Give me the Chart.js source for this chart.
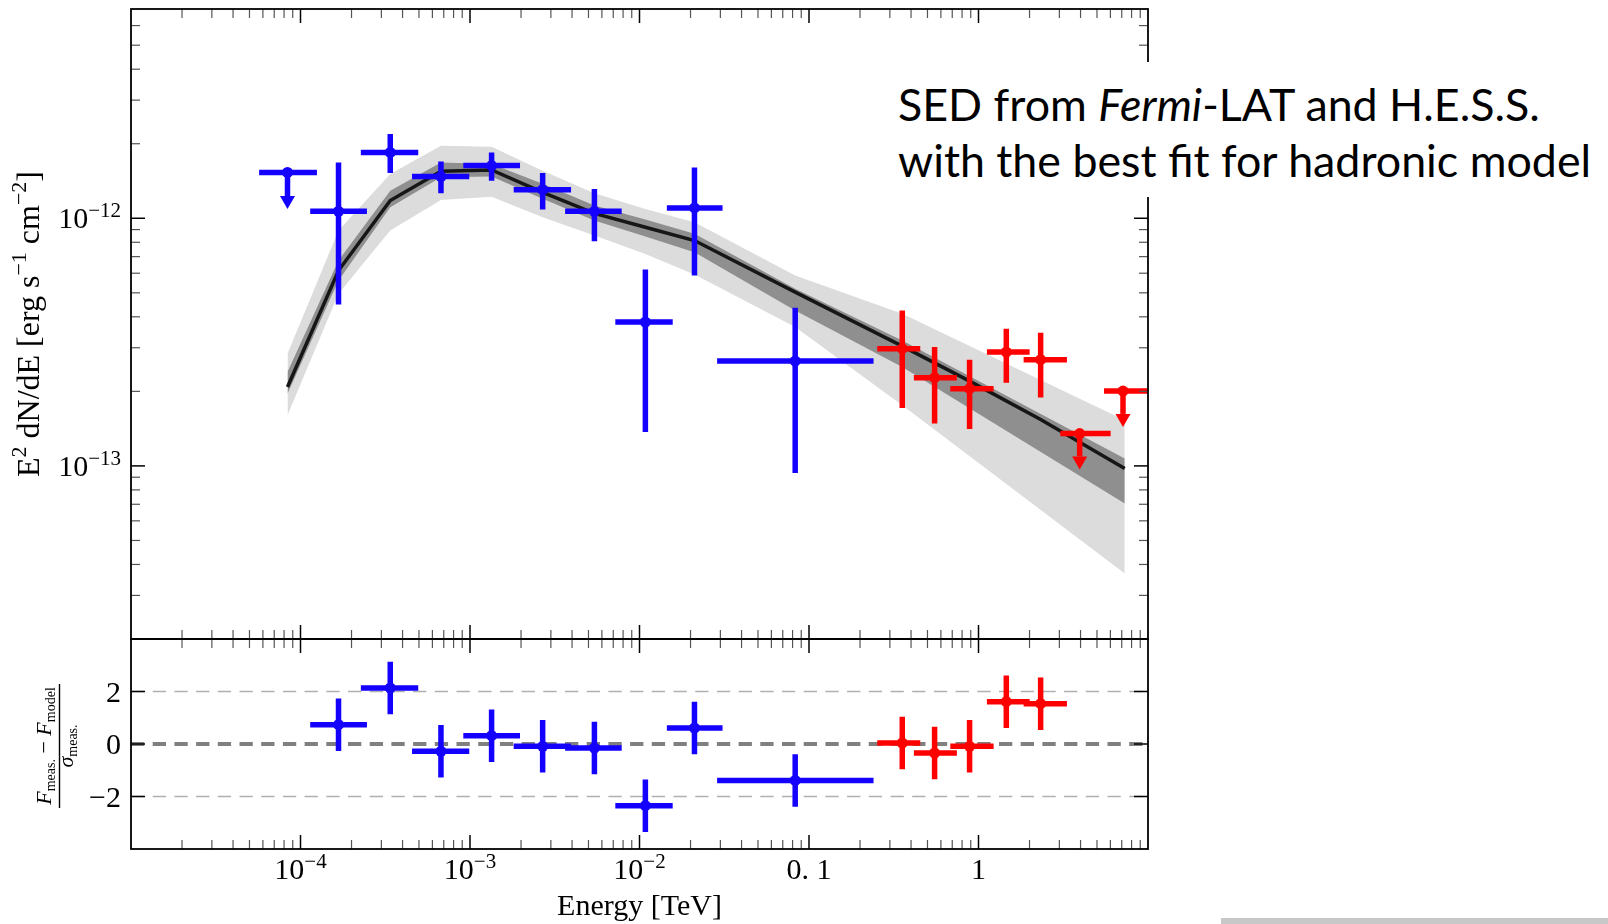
<!DOCTYPE html>
<html lang="en">
<head>
<meta charset="UTF-8">
<title>SED from Fermi-LAT and H.E.S.S. with hadronic model</title>
<script src="https://cdn.jsdelivr.net/npm/chart.js"></script>
<style>
  html, body { margin: 0; padding: 0; background: #fff; }
  body { position: relative; width: 1608px; height: 924px; overflow: hidden; }
  canvas { position: absolute; left: 0; top: 0; }
  #note { position: absolute; left: 872px; top: 62px; width: 736px; height: 135px; background: #fff; }
  #note p { position: absolute; left: 26px; margin: 0; white-space: nowrap; font-family: Lato, "Open Sans", sans-serif; font-size: 45px; color: #000; transform-origin: 0 0; }
  #footerRule { position: absolute; left: 1221px; top: 918px; width: 387px; height: 6px; background: #c8c8c8; }
</style>
</head>
<body>
<canvas id="sedChart" width="1608" height="924"></canvas>
<canvas id="residChart" width="1608" height="924"></canvas>
<div id="note">
  <p id="noteLine1">SED from <i>Fermi</i>-LAT and H.E.S.S.</p>
  <p id="noteLine2">with the best fit for hadronic model</p>
</div>
<div id="footerRule"></div>

<script>
// axis ranges
const xRange = [1e-5, 10];          // Energy [TeV]
const fluxRange = [2e-14, 7e-12];   // E^2 dN/dE [erg s^-1 cm^-2]
const residRange = [-4, 4];

// tick labels
const xTickVals = [1e-4, 1e-3, 1e-2, 0.1, 1];
const xTickLabels = ['10^−4', '10^−3', '10^−2', '0. 1', '1'];
const fluxTickVals = [1e-13, 1e-12];
const fluxTickLabels = ['10^−13', '10^−12'];
const residTickVals = [-2, 0, 2];
const residTickLabels = ['−2', '0', '2'];

// Fermi-LAT flux points
const fermiE   = [1.676e-4, 3.385e-4, 6.74e-4, 1.341e-3, 2.683e-3, 5.42e-3, 1.083e-2, 2.11e-2, 8.29e-2];
const fermiElo = [1.141e-4, 2.27e-4, 4.55e-4, 9.13e-4, 1.81e-3, 3.64e-3, 7.2e-3, 1.45e-2, 2.87e-2];
const fermiEhi = [2.466e-4, 4.95e-4, 9.9e-4, 1.973e-3, 3.946e-3, 7.85e-3, 1.57e-2, 3.09e-2, 0.2403];
const fermiF   = [1.067e-12, 1.845e-12, 1.473e-12, 1.632e-12, 1.305e-12, 1.067e-12, 3.81e-13, 1.101e-12, 2.651e-13];
const fermiFlo = [4.49e-13, 1.524e-12, 1.261e-12, 1.419e-12, 1.084e-12, 8.08e-13, 1.371e-13, 5.88e-13, 9.37e-14];
const fermiFhi = [1.681e-12, 2.188e-12, 1.697e-12, 1.845e-12, 1.524e-12, 1.314e-12, 6.21e-13, 1.605e-12, 4.352e-13];

// Fermi-LAT upper limit
const fermiUlE   = [8.38e-5];
const fermiUlElo = [5.7e-5];
const fermiUlEhi = [1.25e-4];
const fermiUlF   = [1.532e-12];
const fermiUlTip = [1.09e-12];

// H.E.S.S. flux points
const hessE   = [0.355, 0.5508, 0.886, 1.459, 2.326];
const hessElo = [0.2527, 0.4157, 0.6817, 1.121, 1.846];
const hessEhi = [0.4533, 0.7456, 1.228, 2.003, 3.325];
const hessF   = [2.974e-13, 2.272e-13, 2.051e-13, 2.882e-13, 2.686e-13];
const hessFlo = [1.713e-13, 1.483e-13, 1.41e-13, 2.169e-13, 1.887e-13];
const hessFhi = [4.243e-13, 3.018e-13, 2.685e-13, 3.581e-13, 3.45e-13];

// H.E.S.S. upper limits
const hessUlE   = [3.953, 7.12];
const hessUlElo = [3.04, 5.5];
const hessUlEhi = [6.02, 10.9];
const hessUlF   = [1.351e-13, 2.006e-13];
const hessUlTip = [9.67e-14, 1.437e-13];

// hadronic model, best fit
const modelE = [8.38e-5, 1.676e-4, 3.385e-4, 6.74e-4, 1.341e-3, 2.683e-3, 5.42e-3, 1.083e-2, 2.11e-2, 8.29e-2, 0.355, 0.886, 2.326, 7.29];
const modelF = [2.082e-13, 6.15e-13, 1.179e-12, 1.547e-12, 1.567e-12, 1.273e-12, 1.047e-12, 9.2e-13, 8.13e-13, 5.03e-13, 3.047e-13, 2.2e-13, 1.539e-13, 9.76e-14];

// model uncertainty bands
const bandE   = [8.38e-5, 1.676e-4, 3.385e-4, 6.74e-4, 1.341e-3, 2.683e-3, 5.42e-3, 1.083e-2, 2.11e-2, 8.29e-2, 0.355, 7.29];
const outerHi = [2.838e-13, 8.92e-13, 1.51e-12, 1.963e-12, 1.945e-12, 1.557e-12, 1.261e-12, 1.091e-12, 9.64e-13, 5.88e-13, 4.115e-13, 1.529e-13];
const outerLo = [1.601e-13, 4.96e-13, 8.92e-13, 1.186e-12, 1.223e-12, 1.009e-12, 8.52e-13, 7.18e-13, 5.93e-13, 3.635e-13, 1.757e-13, 3.68e-14];
const innerHi = [2.393e-13, 6.75e-13, 1.293e-12, 1.681e-12, 1.656e-12, 1.38e-12, 1.125e-12, 9.88e-13, 8.65e-13, 5.19e-13, 3.213e-13, 1.071e-13];
const innerLo = [1.958e-13, 5.61e-13, 1.107e-12, 1.463e-12, 1.473e-12, 1.2e-12, 9.79e-13, 8.44e-13, 7.29e-13, 4.24e-13, 2.507e-13, 7.05e-14];

// residuals (F_meas - F_model) / sigma
const fermiResid    = [0.735, 2.133, -0.28, 0.316, -0.09, -0.152, -2.35, 0.61, -1.387];
const fermiResidErr = [1, 1, 1, 1, 1, 1, 1, 1, 1];
const hessResid     = [0.038, -0.343, -0.09, 1.611, 1.535];
const hessResidErr  = [1, 1, 1, 1, 1];
const residGuides = [-2, 2];

const SERIF = '"Liberation Serif", "DejaVu Serif", serif';
const BLUE = '#1400ff';
const RED = '#ff0000';
const TICK_FONT = 30;

const pts = (xs, ys) => xs.map((x, i) => ({ x, y: ys[i] }));

function logMinorTicks(min, max) {
  const out = [];
  for (let p = Math.floor(Math.log10(min)); p <= Math.ceil(Math.log10(max)); p++) {
    for (let k = 2; k <= 9; k++) {
      const v = k * Math.pow(10, p);
      if (v > min * 1.001 && v < max * 0.999) out.push(v);
    }
  }
  return out;
}

function fontFor(p) {
  return (p.italic ? 'italic ' : '') + p.size + 'px ' + SERIF;
}

// draws a run of text pieces (with optional super/subscript rise) on one baseline
function drawRich(ctx, parts, x, y, align) {
  let width = 0;
  for (const p of parts) { ctx.font = fontFor(p); width += ctx.measureText(p.t).width; }
  let cx = align === 'center' ? x - width / 2 : align === 'right' ? x - width : x;
  ctx.textAlign = 'left';
  ctx.textBaseline = 'alphabetic';
  for (const p of parts) {
    ctx.font = fontFor(p);
    ctx.fillText(p.t, cx, y - (p.rise || 0));
    cx += ctx.measureText(p.t).width;
  }
}

function tickParts(label, size) {
  const [base, exp] = label.split('^');
  const parts = [{ t: base, size }];
  if (exp) parts.push({ t: exp, size: Math.round(size * 0.7), rise: Math.round(size * 0.37) });
  return parts;
}

// frame, inward ticks on all four sides, tick labels
function framePlugin(cfg) {
  return {
    id: 'frame',
    afterDraw(chart) {
      const { ctx, chartArea: a, scales: { x, y } } = chart;
      ctx.save();
      ctx.lineCap = 'butt';
      const line = (x0, y0, x1, y1, major) => {
        ctx.strokeStyle = major ? '#000' : '#555';
        ctx.lineWidth = major ? 1.5 : 1.2;
        ctx.beginPath(); ctx.moveTo(x0, y0); ctx.lineTo(x1, y1); ctx.stroke();
      };
      const xTicks = xTickVals.map(v => [v, true]).concat(logMinorTicks(xRange[0], xRange[1]).map(v => [v, false]));
      for (const [v, major] of xTicks) {
        const px = x.getPixelForValue(v);
        const len = major ? 14 : 9;
        line(px, a.top, px, a.top + len, major);
        line(px, a.bottom, px, a.bottom - len, major);
      }
      const yTicks = cfg.yMajor.map(v => [v, true]).concat(cfg.yMinor.map(v => [v, false]));
      for (const [v, major] of yTicks) {
        const py = y.getPixelForValue(v);
        const len = major ? 14 : 9;
        line(a.left, py, a.left + len, py, major);
        line(a.right, py, a.right - len, py, major);
      }
      ctx.strokeStyle = '#000';
      ctx.lineWidth = 1.8;
      ctx.strokeRect(a.left, a.top, a.right - a.left, a.bottom - a.top);

      ctx.fillStyle = '#000';
      if (cfg.xLabels) {
        xTickVals.forEach((v, i) => drawRich(ctx, tickParts(xTickLabels[i], TICK_FONT), x.getPixelForValue(v), a.bottom + 30, 'center'));
      }
      cfg.yMajor.forEach((v, i) => drawRich(ctx, tickParts(cfg.yLabels[i], TICK_FONT), a.left - 10, y.getPixelForValue(v) + 10, 'right'));
      ctx.restore();
    }
  };
}

// horizontal bin bars, vertical error bars and upper-limit arrows
const errorBars = {
  id: 'errorBars',
  afterDatasetDraw(chart, args) {
    const ds = chart.data.datasets[args.index];
    const e = ds.errors;
    if (!e) return;
    const { ctx, chartArea: a, scales: { x, y } } = chart;
    ctx.save();
    ctx.beginPath();
    ctx.rect(a.left, a.top, a.right - a.left, a.bottom - a.top);
    ctx.clip();
    ctx.strokeStyle = ds.pointBackgroundColor;
    ctx.fillStyle = ds.pointBackgroundColor;
    ctx.lineWidth = 5.5;
    ctx.lineCap = 'butt';
    ds.data.forEach((p, i) => {
      const px = x.getPixelForValue(p.x);
      const py = y.getPixelForValue(p.y);
      ctx.beginPath();
      ctx.moveTo(x.getPixelForValue(e.xLo[i]), py);
      ctx.lineTo(x.getPixelForValue(e.xHi[i]), py);
      if (e.yLo) {
        ctx.moveTo(px, y.getPixelForValue(e.yLo[i]));
        ctx.lineTo(px, y.getPixelForValue(e.yHi[i]));
      }
      ctx.stroke();
      if (e.tip) {
        const tp = y.getPixelForValue(e.tip[i]);
        const head = 13;
        ctx.beginPath();
        ctx.moveTo(px, py);
        ctx.lineTo(px, tp - head);
        ctx.stroke();
        ctx.beginPath();
        ctx.moveTo(px - 7.5, tp - head);
        ctx.lineTo(px + 7.5, tp - head);
        ctx.lineTo(px, tp);
        ctx.closePath();
        ctx.fill();
      }
    });
    ctx.restore();
  }
};

function pointSet(data, color, errors) {
  return {
    data, errors, showLine: false, order: 0,
    pointRadius: 5.5, pointBackgroundColor: color, pointBorderWidth: 0, borderColor: color
  };
}

function bandSet(data, color, fill, order) {
  return {
    data, fill, order, backgroundColor: color, borderColor: 'transparent',
    borderWidth: 0, pointRadius: 0
  };
}

const commonOptions = (padding, yScale) => ({
  responsive: false,
  animation: false,
  devicePixelRatio: 1,
  events: [],
  layout: { padding },
  scales: {
    x: { type: 'logarithmic', min: xRange[0], max: xRange[1], display: false },
    y: yScale
  },
  plugins: { legend: { display: false }, tooltip: { enabled: false } }
});

// upper panel: spectral energy distribution
const sedTitles = {
  id: 'sedTitles',
  afterDraw(chart) {
    const { ctx } = chart;
    ctx.save();
    ctx.fillStyle = '#000';
    ctx.translate(39, 324);
    ctx.rotate(-Math.PI / 2);
    drawRich(ctx, [
      { t: 'E', size: 32 }, { t: '2', size: 22, rise: 13 },
      { t: ' dN/dE [erg s', size: 32 }, { t: '−1', size: 22, rise: 13 },
      { t: ' cm', size: 32 }, { t: '−2', size: 22, rise: 13 },
      { t: ']', size: 32 }
    ], 0, 0, 'center');
    ctx.restore();
  }
};

new Chart(document.getElementById('sedChart'), {
  type: 'line',
  data: {
    datasets: [
      pointSet(pts(fermiE, fermiF), BLUE, { xLo: fermiElo, xHi: fermiEhi, yLo: fermiFlo, yHi: fermiFhi }),
      pointSet(pts(fermiUlE, fermiUlF), BLUE, { xLo: fermiUlElo, xHi: fermiUlEhi, tip: fermiUlTip }),
      pointSet(pts(hessE, hessF), RED, { xLo: hessElo, xHi: hessEhi, yLo: hessFlo, yHi: hessFhi }),
      pointSet(pts(hessUlE, hessUlF), RED, { xLo: hessUlElo, xHi: hessUlEhi, tip: hessUlTip }),
      { data: pts(modelE, modelF), order: 1, borderColor: '#161616', borderWidth: 3.5, pointRadius: 0, fill: false },
      bandSet(pts(bandE, innerHi), '#8f8f8f', '+1', 2),
      bandSet(pts(bandE, innerLo), '#8f8f8f', false, 2),
      bandSet(pts(bandE, outerHi), '#dcdcdc', '+1', 3),
      bandSet(pts(bandE, outerLo), '#dcdcdc', false, 3)
    ]
  },
  options: commonOptions({ left: 131, top: 9, right: 460, bottom: 285 },
    { type: 'logarithmic', min: fluxRange[0], max: fluxRange[1], display: false }),
  plugins: [errorBars, framePlugin({
    xLabels: false,
    yMajor: fluxTickVals,
    yLabels: fluxTickLabels,
    yMinor: logMinorTicks(fluxRange[0], fluxRange[1])
  }), sedTitles]
});

// lower panel: residuals
const residTitles = {
  id: 'residTitles',
  afterDraw(chart) {
    const { ctx } = chart;
    ctx.save();
    ctx.fillStyle = '#000';
    drawRich(ctx, [{ t: 'Energy [TeV]', size: 30 }], 639.5, 915, 'center');
    ctx.translate(59.5, 746);
    ctx.rotate(-Math.PI / 2);
    ctx.fillRect(-62, -0.7, 124, 1.4);
    drawRich(ctx, [
      { t: 'F', size: 22, italic: true }, { t: 'meas.', size: 14, rise: -4 },
      { t: ' − ', size: 22 },
      { t: 'F', size: 22, italic: true }, { t: 'model', size: 14, rise: -4 }
    ], 0, -9, 'center');
    drawRich(ctx, [{ t: 'σ', size: 22, italic: true }, { t: 'meas.', size: 14, rise: -4 }], 0, 13, 'center');
    ctx.restore();
  }
};

const guideLine = (v, width, color) => ({
  data: [{ x: xRange[0], y: v }, { x: xRange[1], y: v }],
  order: 2, borderColor: color, borderWidth: width, borderDash: [13.3, 8.4],
  pointRadius: 0, fill: false
});

const bandOf = (vals, errs, sign) => vals.map((v, i) => v + sign * errs[i]);

new Chart(document.getElementById('residChart'), {
  type: 'line',
  data: {
    datasets: [
      pointSet(pts(fermiE, fermiResid), BLUE, { xLo: fermiElo, xHi: fermiEhi,
        yLo: bandOf(fermiResid, fermiResidErr, -1), yHi: bandOf(fermiResid, fermiResidErr, 1) }),
      pointSet(pts(hessE, hessResid), RED, { xLo: hessElo, xHi: hessEhi,
        yLo: bandOf(hessResid, hessResidErr, -1), yHi: bandOf(hessResid, hessResidErr, 1) }),
      guideLine(0, 4, '#808080'),
      ...residGuides.map(v => guideLine(v, 1.6, '#b0b0b0'))
    ]
  },
  options: commonOptions({ left: 131, top: 639, right: 460, bottom: 75 },
    { type: 'linear', min: residRange[0], max: residRange[1], display: false }),
  plugins: [errorBars, framePlugin({
    xLabels: true,
    yMajor: residTickVals,
    yLabels: residTickLabels,
    yMinor: []
  }), residTitles]
});

// caption block: baseline placement and width fitted to the slide text
(function placeNote() {
  const mctx = document.createElement('canvas').getContext('2d');
  mctx.font = '45px Lato';
  const m = mctx.measureText('with the best fit for hadronic model');
  const ascent = m.fontBoundingBoxAscent, descent = m.fontBoundingBoxDescent;
  const squeeze = 694 / m.width;
  const baselines = [121 - 62, 176.5 - 62];
  ['noteLine1', 'noteLine2'].forEach((id, i) => {
    const el = document.getElementById(id);
    el.style.lineHeight = (ascent + descent) + 'px';
    el.style.top = (baselines[i] - ascent) + 'px';
    el.style.transform = 'scaleX(' + squeeze + ')';
  });
})();
</script>
</body>
</html>
